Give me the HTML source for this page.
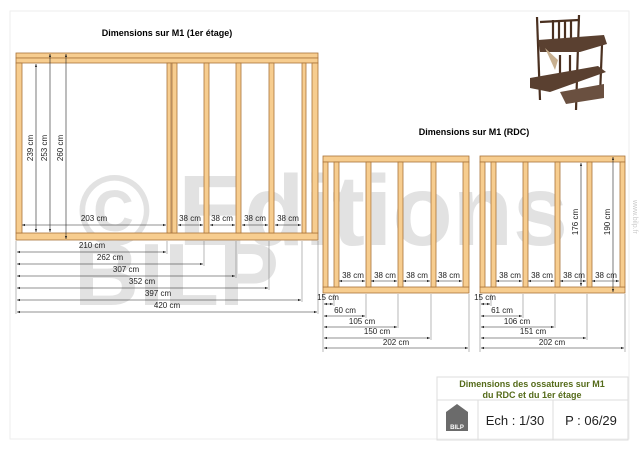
<!DOCTYPE html>
<html><head><meta charset="utf-8"><style>
html,body{margin:0;padding:0;background:#fff;}
svg{display:block;font-family:"Liberation Sans",sans-serif;}
</style></head><body>
<svg width="640" height="452" viewBox="0 0 640 452" xmlns="http://www.w3.org/2000/svg">
<defs>
<marker id="a" viewBox="0 0 6 6" refX="6" refY="3" markerWidth="5" markerHeight="5" orient="auto-start-reverse"><path d="M0,0.8 L6,3 L0,5.2z" fill="#222"/></marker>
</defs>
<rect x="10" y="11" width="619" height="428" fill="none" stroke="#eee"/>
<!-- watermark -->
<g fill="#e2e2e2" font-weight="bold" font-family="'Liberation Sans',sans-serif">
<text x="78" y="245" font-size="100" textLength="490" lengthAdjust="spacingAndGlyphs">© Editions</text>
<text x="74" y="305" font-size="88" textLength="205" lengthAdjust="spacingAndGlyphs">BILP</text>
</g>
<text x="633" y="200" font-size="7" fill="#ccc" transform="rotate(90 633 200)">www.bilp.fr</text>

<!-- thumbnail -->
<g stroke="#4a3020" fill="none" stroke-width="2.2">
<line x1="537" y1="17" x2="540" y2="100"/><line x1="579" y1="15" x2="576" y2="110"/>
<line x1="553" y1="20" x2="553" y2="48"/><line x1="559" y1="20" x2="559" y2="48"/><line x1="565" y1="20" x2="565" y2="48"/><line x1="571" y1="20" x2="571" y2="48"/>
<line x1="602" y1="45" x2="600" y2="95"/><line x1="560" y1="55" x2="560" y2="80"/><line x1="570" y1="55" x2="570" y2="80"/>
<line x1="540" y1="22" x2="579" y2="20"/>
</g>
<polygon points="538,40 604,35 607,44 580,52 540,52" fill="#5a4030"/>
<polygon points="530,78 598,66 606,72 550,92 530,88" fill="#5a4030"/>
<polygon points="560,92 604,84 604,98 566,104" fill="#6a5040"/>
<polygon points="545,48 558,60 555,70" fill="#c8b090"/>

<!-- titles -->
<text x="167" y="36" font-size="9" font-weight="bold" text-anchor="middle">Dimensions sur M1 (1er étage)</text>
<text x="474" y="135" font-size="9" font-weight="bold" text-anchor="middle">Dimensions sur M1 (RDC)</text>

<g fill="#f7cd8f" stroke="#a9743a" stroke-width="0.8">
<rect x="16" y="53" width="302" height="5"/><rect x="16" y="58" width="302" height="5"/>
<rect x="16" y="233" width="302" height="7"/>
<rect x="16" y="63" width="6" height="170"/>
<rect x="167" y="63" width="4" height="170"/><rect x="172" y="63" width="5" height="170"/>
<rect x="204" y="63" width="5" height="170"/><rect x="236" y="63" width="5" height="170"/>
<rect x="269" y="63" width="5" height="170"/><rect x="302" y="63" width="4" height="170"/>
<rect x="312" y="63" width="6" height="170"/>
<rect x="323" y="156" width="146" height="6"/><rect x="323" y="287" width="146" height="6"/>
<rect x="323" y="162" width="5" height="125"/><rect x="334" y="162" width="5" height="125"/>
<rect x="366" y="162" width="5" height="125"/><rect x="398" y="162" width="5" height="125"/>
<rect x="431" y="162" width="5" height="125"/><rect x="463" y="162" width="6" height="125"/>
<rect x="480" y="156" width="145" height="6"/><rect x="480" y="287" width="145" height="6"/>
<rect x="480" y="162" width="5" height="125"/><rect x="491" y="162" width="5" height="125"/>
<rect x="523" y="162" width="5" height="125"/><rect x="555" y="162" width="5" height="125"/>
<rect x="587" y="162" width="5" height="125"/><rect x="620" y="162" width="5" height="125"/>
</g>

<g stroke="#222" stroke-width="0.6" fill="none">
<line x1="36" y1="64" x2="36" y2="232" marker-start="url(#a)" marker-end="url(#a)"/>
<line x1="50" y1="54" x2="50" y2="232" marker-start="url(#a)" marker-end="url(#a)"/>
<line x1="66" y1="54" x2="66" y2="239" marker-start="url(#a)" marker-end="url(#a)"/>
<line x1="22" y1="225" x2="166" y2="225" marker-start="url(#a)" marker-end="url(#a)"/>
<line x1="178" y1="225" x2="203" y2="225" marker-start="url(#a)" marker-end="url(#a)"/>
<line x1="210" y1="225" x2="235" y2="225" marker-start="url(#a)" marker-end="url(#a)"/>
<line x1="242" y1="225" x2="268" y2="225" marker-start="url(#a)" marker-end="url(#a)"/>
<line x1="275" y1="225" x2="301" y2="225" marker-start="url(#a)" marker-end="url(#a)"/>
<line x1="16" y1="241" x2="16" y2="314" stroke="#888"/>
<line x1="167" y1="241" x2="167" y2="254" stroke="#888"/><line x1="204" y1="241" x2="204" y2="266" stroke="#888"/>
<line x1="236" y1="241" x2="236" y2="278" stroke="#888"/><line x1="269" y1="241" x2="269" y2="290" stroke="#888"/>
<line x1="302" y1="241" x2="302" y2="302" stroke="#888"/><line x1="318" y1="241" x2="318" y2="314" stroke="#888"/>
<line x1="17" y1="252" x2="166" y2="252" marker-start="url(#a)" marker-end="url(#a)"/>
<line x1="17" y1="264" x2="203" y2="264" marker-start="url(#a)" marker-end="url(#a)"/>
<line x1="17" y1="276" x2="235" y2="276" marker-start="url(#a)" marker-end="url(#a)"/>
<line x1="17" y1="288" x2="268" y2="288" marker-start="url(#a)" marker-end="url(#a)"/>
<line x1="17" y1="300" x2="301" y2="300" marker-start="url(#a)" marker-end="url(#a)"/>
<line x1="17" y1="312" x2="317" y2="312" marker-start="url(#a)" marker-end="url(#a)"/>
<line x1="339" y1="281" x2="365" y2="281" marker-start="url(#a)" marker-end="url(#a)"/>
<line x1="371" y1="281" x2="397" y2="281" marker-start="url(#a)" marker-end="url(#a)"/>
<line x1="403" y1="281" x2="430" y2="281" marker-start="url(#a)" marker-end="url(#a)"/>
<line x1="436" y1="281" x2="462" y2="281" marker-start="url(#a)" marker-end="url(#a)"/>
<line x1="323" y1="294" x2="323" y2="352" stroke="#888"/><line x1="334" y1="294" x2="334" y2="306" stroke="#888"/>
<line x1="366" y1="294" x2="366" y2="318" stroke="#888"/><line x1="398" y1="294" x2="398" y2="328" stroke="#888"/>
<line x1="431" y1="294" x2="431" y2="340" stroke="#888"/><line x1="469" y1="294" x2="469" y2="352" stroke="#888"/>
<line x1="324" y1="304" x2="333" y2="304" marker-start="url(#a)" marker-end="url(#a)"/>
<line x1="324" y1="316" x2="365" y2="316" marker-start="url(#a)" marker-end="url(#a)"/>
<line x1="324" y1="327" x2="397" y2="327" marker-start="url(#a)" marker-end="url(#a)"/>
<line x1="324" y1="338" x2="430" y2="338" marker-start="url(#a)" marker-end="url(#a)"/>
<line x1="324" y1="348" x2="468" y2="348" marker-start="url(#a)" marker-end="url(#a)"/>
<line x1="496" y1="281" x2="522" y2="281" marker-start="url(#a)" marker-end="url(#a)"/>
<line x1="528" y1="281" x2="554" y2="281" marker-start="url(#a)" marker-end="url(#a)"/>
<line x1="560" y1="281" x2="586" y2="281" marker-start="url(#a)" marker-end="url(#a)"/>
<line x1="592" y1="281" x2="619" y2="281" marker-start="url(#a)" marker-end="url(#a)"/>
<line x1="581" y1="163" x2="581" y2="286" marker-start="url(#a)" marker-end="url(#a)"/>
<line x1="613" y1="157" x2="613" y2="292" marker-start="url(#a)" marker-end="url(#a)"/>
<line x1="480" y1="294" x2="480" y2="352" stroke="#888"/><line x1="491" y1="294" x2="491" y2="306" stroke="#888"/>
<line x1="523" y1="294" x2="523" y2="318" stroke="#888"/><line x1="555" y1="294" x2="555" y2="328" stroke="#888"/>
<line x1="587" y1="294" x2="587" y2="340" stroke="#888"/><line x1="625" y1="294" x2="625" y2="352" stroke="#888"/>
<line x1="481" y1="304" x2="490" y2="304" marker-start="url(#a)" marker-end="url(#a)"/>
<line x1="481" y1="316" x2="522" y2="316" marker-start="url(#a)" marker-end="url(#a)"/>
<line x1="481" y1="327" x2="554" y2="327" marker-start="url(#a)" marker-end="url(#a)"/>
<line x1="481" y1="338" x2="586" y2="338" marker-start="url(#a)" marker-end="url(#a)"/>
<line x1="481" y1="348" x2="624" y2="348" marker-start="url(#a)" marker-end="url(#a)"/>
</g>

<g font-size="8" fill="#222" text-anchor="middle">
<text transform="translate(33,148) rotate(-90)">239 cm</text>
<text transform="translate(47,148) rotate(-90)">253 cm</text>
<text transform="translate(63,148) rotate(-90)">260 cm</text>
<text transform="translate(578,222) rotate(-90)">176 cm</text>
<text transform="translate(610,222) rotate(-90)">190 cm</text>
<text x="94" y="221">203 cm</text>
<text x="190" y="221">38 cm</text><text x="222" y="221">38 cm</text><text x="255" y="221">38 cm</text><text x="288" y="221">38 cm</text>
<text x="92" y="248">210 cm</text><text x="110" y="260">262 cm</text><text x="126" y="272">307 cm</text>
<text x="142" y="284">352 cm</text><text x="158" y="296">397 cm</text><text x="167" y="308">420 cm</text>
<text x="353" y="278">38 cm</text><text x="385" y="278">38 cm</text><text x="417" y="278">38 cm</text><text x="449" y="278">38 cm</text>
<text x="510" y="278">38 cm</text><text x="542" y="278">38 cm</text><text x="574" y="278">38 cm</text><text x="606" y="278">38 cm</text>
<text x="328" y="300">15 cm</text><text x="345" y="313">60 cm</text><text x="362" y="324">105 cm</text>
<text x="377" y="334">150 cm</text><text x="396" y="345">202 cm</text>
<text x="485" y="300">15 cm</text><text x="502" y="313">61 cm</text><text x="517" y="324">106 cm</text>
<text x="533" y="334">151 cm</text><text x="552" y="345">202 cm</text>
</g>

<g stroke="#ddd" fill="none">
<rect x="437" y="377" width="191" height="63"/>
<line x1="437" y1="400" x2="628" y2="400"/>
<line x1="478" y1="400" x2="478" y2="440"/><line x1="553" y1="400" x2="553" y2="440"/>
</g>
<g font-weight="bold" font-size="9" fill="#556b1a" text-anchor="middle">
<text x="532" y="387">Dimensions des ossatures sur M1</text>
<text x="532" y="398">du RDC et du 1er étage</text>
</g>
<polygon points="446,412 457,404 468,412 468,431 446,431" fill="#6b6b6b"/>
<text x="457" y="429" font-size="6" font-weight="bold" fill="#fff" text-anchor="middle">BILP</text>
<text x="515" y="425" font-size="13" fill="#222" text-anchor="middle">Ech : 1/30</text>
<text x="591" y="425" font-size="13" fill="#222" text-anchor="middle">P : 06/29</text>
</svg>
</body></html>
